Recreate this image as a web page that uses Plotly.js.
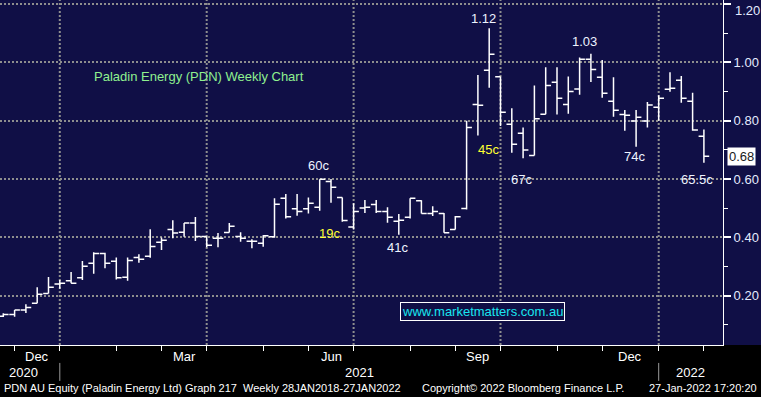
<!DOCTYPE html>
<html>
<head>
<meta charset="utf-8">
<script src="https://cdn.plot.ly/plotly-3.0.1.min.js"></script>
<style>html,body{margin:0;padding:0;background:#000;}#chart{width:761px;height:397px;}</style>
</head>
<body>
<div id="chart"></div>
<script>
// Weekly bars (week ending Friday)
const weeks = [
  "2020-11-20","2020-11-27","2020-12-04","2020-12-11","2020-12-18","2020-12-25",
  "2021-01-01","2021-01-08","2021-01-15","2021-01-22","2021-01-29",
  "2021-02-05","2021-02-12","2021-02-19","2021-02-26",
  "2021-03-05","2021-03-12","2021-03-19","2021-03-26",
  "2021-04-02","2021-04-09","2021-04-16","2021-04-23","2021-04-30",
  "2021-05-07","2021-05-14","2021-05-21","2021-05-28",
  "2021-06-04","2021-06-11","2021-06-18","2021-06-25",
  "2021-07-02","2021-07-09","2021-07-16","2021-07-23","2021-07-30",
  "2021-08-06","2021-08-13","2021-08-20","2021-08-27",
  "2021-09-03","2021-09-10","2021-09-17","2021-09-24",
  "2021-10-01","2021-10-08","2021-10-15","2021-10-22","2021-10-29",
  "2021-11-05","2021-11-12","2021-11-19","2021-11-26",
  "2021-12-03","2021-12-10","2021-12-17","2021-12-24","2021-12-31",
  "2022-01-07","2022-01-14","2022-01-21","2022-01-28"
];
const openP = [0.130,0.136,0.151,0.174,0.208,0.240,0.251,0.262,0.311,0.345,0.318,0.263,0.331,0.335,0.383,0.427,0.418,0.449,0.403,0.397,0.417,0.403,0.387,0.380,0.402,0.534,0.498,0.498,0.503,0.592,0.537,0.436,0.501,0.513,0.489,0.455,0.469,0.526,0.482,0.482,0.427,0.499,0.856,0.973,0.951,0.788,0.757,0.681,0.822,0.932,0.856,0.909,1.011,0.949,0.867,0.821,0.799,0.799,0.846,0.908,0.939,0.867,0.747];
const highP = [0.140,0.151,0.171,0.229,0.264,0.254,0.281,0.319,0.349,0.347,0.331,0.331,0.342,0.428,0.400,0.459,0.449,0.470,0.403,0.415,0.449,0.418,0.394,0.407,0.534,0.549,0.549,0.537,0.599,0.600,0.537,0.517,0.528,0.528,0.503,0.480,0.534,0.527,0.507,0.484,0.473,0.800,0.957,1.117,0.951,0.843,0.777,0.921,0.983,0.983,0.952,1.017,1.030,1.008,0.949,0.837,0.837,0.864,0.887,0.966,0.953,0.896,0.770];
const lowP  = [0.127,0.128,0.141,0.174,0.208,0.224,0.243,0.254,0.275,0.294,0.256,0.251,0.313,0.330,0.357,0.397,0.402,0.388,0.366,0.366,0.417,0.385,0.363,0.368,0.399,0.465,0.474,0.482,0.491,0.519,0.454,0.427,0.484,0.484,0.450,0.409,0.465,0.482,0.473,0.416,0.427,0.496,0.749,0.913,0.782,0.690,0.671,0.681,0.822,0.821,0.824,0.889,0.933,0.879,0.814,0.766,0.711,0.777,0.800,0.899,0.862,0.766,0.656];
const closeP= [0.136,0.151,0.160,0.205,0.229,0.243,0.243,0.301,0.345,0.311,0.262,0.321,0.325,0.369,0.390,0.415,0.449,0.403,0.373,0.397,0.438,0.397,0.387,0.406,0.514,0.471,0.489,0.517,0.599,0.572,0.458,0.489,0.503,0.489,0.469,0.459,0.534,0.482,0.489,0.416,0.471,0.777,0.853,1.028,0.829,0.719,0.700,0.807,0.921,0.877,0.900,1.011,0.976,0.894,0.836,0.819,0.812,0.854,0.877,0.911,0.877,0.768,0.678];

// Axis labels
const monthEndIdx = [1,5,10,14,18,23,27,31,36,40,44,49,53,58,62];
const quarterEndIdx = [5,18,31,44,58];
const yearBreakIdx = [5,58];
const monthLabels = ["Dec","Mar","Jun","Sep","Dec"];
const monthLabelPos = [3,16,29,42,55.5];
const yearLabels = ["2020","2021","2022"];
const yearLabelPos = [1.75,31.5,60.8];
const yTicks = [0.20,0.40,0.60,0.80,1.00,1.20];
const yTickText = ["0.20","0.40","0.60","0.80","1.00",""];
const yTopLabel = "1.20";
const yMinor = [0.10,0.30,0.50,0.70,0.90,1.10];

// Chart notes
const notes = [
  {text:"1.12", x:42.5, y:1.152, c:"#eef3ff"},
  {text:"1.03", x:51.4, y:1.070, c:"#eef3ff"},
  {text:"60c",  x:27.9, y:0.648, c:"#eef3ff"},
  {text:"19c",  x:28.9, y:0.415, c:"#ffff33"},
  {text:"41c",  x:34.9, y:0.367, c:"#eef3ff"},
  {text:"45c",  x:42.9, y:0.703, c:"#ffff33"},
  {text:"67c",  x:45.9, y:0.600, c:"#eef3ff"},
  {text:"74c",  x:55.9, y:0.679, c:"#eef3ff"},
  {text:"65.5c",x:61.4, y:0.600, c:"#eef3ff"}
];

const NAVY = "#100f46";
const GRID = "#8e8e8e";
const baseFont = "Liberation Sans, Arial, sans-serif";

const trace = {
  type: "ohlc",
  x: weeks, open: openP, high: highP, low: lowP, close: closeP,
  increasing: {line: {color: "#ffffff", width: 1.5}},
  decreasing: {line: {color: "#ffffff", width: 1.5}},
  tickwidth: 0.47,
  hoverinfo: "skip",
  showlegend: false
};

const shapes = [
  {type:"rect", xref:"paper", yref:"paper", x0:1, x1:1.06, y0:0, y1:1, fillcolor:NAVY, line:{width:0}, layer:"below"}
];
quarterEndIdx.forEach(i => shapes.push({type:"line", xref:"x", yref:"paper", x0:weeks[i], x1:weeks[i], y0:0, y1:1,
  line:{color:GRID, width:2, dash:"2px,2px"}, layer:"below"}));
yearBreakIdx.forEach(i => shapes.push({type:"line", xref:"x", yref:"paper", x0:weeks[i], x1:weeks[i], y0:-0.052, y1:-0.104,
  line:{color:"#9a9a9a", width:1}}));

const annotations = [];
annotations.push({xref:"x", yref:"y", x:17.3, y:0.95, text:"Paladin Energy (PDN) Weekly Chart", showarrow:false,
  font:{family:baseFont, size:13, color:"#8ff08f"}});
notes.forEach(n => annotations.push({xref:"x", yref:"y", x:n.x, y:n.y, text:n.text, showarrow:false,
  font:{family:baseFont, size:13, color:n.c}}));
annotations.push({xref:"paper", yref:"paper", x:0.782, y:0.071, text:"www.marketmatters.com.au", showarrow:false,
  font:{family:baseFont, size:13, color:"#19e6f0"}, bgcolor:NAVY, bordercolor:"#ffffff", borderwidth:1, borderpad:1});
annotations.push({xref:"paper", yref:"y", x:1, xshift:4, xanchor:"left", y:closeP[closeP.length-1], text:closeP[closeP.length-1].toFixed(2),
  showarrow:false, font:{family:baseFont, size:13, color:"#1a1a1a"}, bgcolor:"#ffffff", borderpad:1});
// top y label, nudged down inside the frame as in the reference
annotations.push({xref:"paper", yref:"paper", x:1, xshift:10, xanchor:"left", y:1, yshift:-10, yanchor:"middle", text:yTopLabel,
  showarrow:false, font:{family:baseFont, size:13, color:"#e4ebff"}});
monthLabels.forEach((t,k) => annotations.push({xref:"x", yref:"paper", x:monthLabelPos[k], y:-0.033, yanchor:"middle", text:t,
  showarrow:false, font:{family:baseFont, size:13, color:"#ffffff"}}));
yearLabels.forEach((t,k) => annotations.push({xref:"x", yref:"paper", x:yearLabelPos[k], y:-0.081, yanchor:"middle", text:t,
  showarrow:false, font:{family:baseFont, size:13, color:"#ffffff"}}));
const footer = [
  {t:"PDN AU Equity (Paladin Energy Ltd) Graph 217  Weekly 28JAN2018-27JAN2022", x:2, a:"left"},
  {t:"Copyright\u00a9 2022 Bloomberg Finance L.P.", x:420, a:"left"},
  {t:"27-Jan-2022 17:20:20", x:759, a:"right"}
];
footer.forEach(f => annotations.push({xref:"paper", yref:"paper", x:f.x/723, xanchor:f.a, y:-0.126, yanchor:"middle",
  text:f.t, showarrow:false, font:{family:baseFont, size:11, color:"#ffffff"}}));

const layout = {
  width: 761, height: 397,
  margin: {l:0, r:38, t:0, b:52, pad:0},
  paper_bgcolor: "#000000",
  plot_bgcolor: NAVY,
  showlegend: false,
  dragmode: false,
  xaxis: {
    type: "category", range: [-0.292, 63.69], autorange: false,
    rangeslider: {visible: false},
    tickvals: monthEndIdx.map(i => weeks[i]),
    showticklabels: false, ticks: "outside", ticklen: 5, tickwidth: 1, tickcolor: "#ffffff",
    showgrid: false, zeroline: false,
    showline: true, linecolor: "#ffffff", linewidth: 1,
    fixedrange: true
  },
  yaxis: {
    side: "right", range: [0.031, 1.214], autorange: false,
    tickvals: yTicks, ticktext: yTickText,
    ticks: "outside", ticklen: 7, tickwidth: 2, tickcolor: "#ffffff",
    tickfont: {family: baseFont, size: 13, color: "#e4ebff"},
    showgrid: true, gridcolor: GRID, gridwidth: 2, griddash: "2px,2px",
    zeroline: false, showline: true, linecolor: "#ffffff", linewidth: 1,
    minor: {tickvals: yMinor, ticks: "outside", ticklen: 4, tickwidth: 1, tickcolor: "#ffffff", showgrid: false},
    fixedrange: true
  },
  shapes: shapes,
  annotations: annotations
};

Plotly.newPlot("chart", [trace], layout, {displayModeBar: false, staticPlot: true});
</script>
</body>
</html>
